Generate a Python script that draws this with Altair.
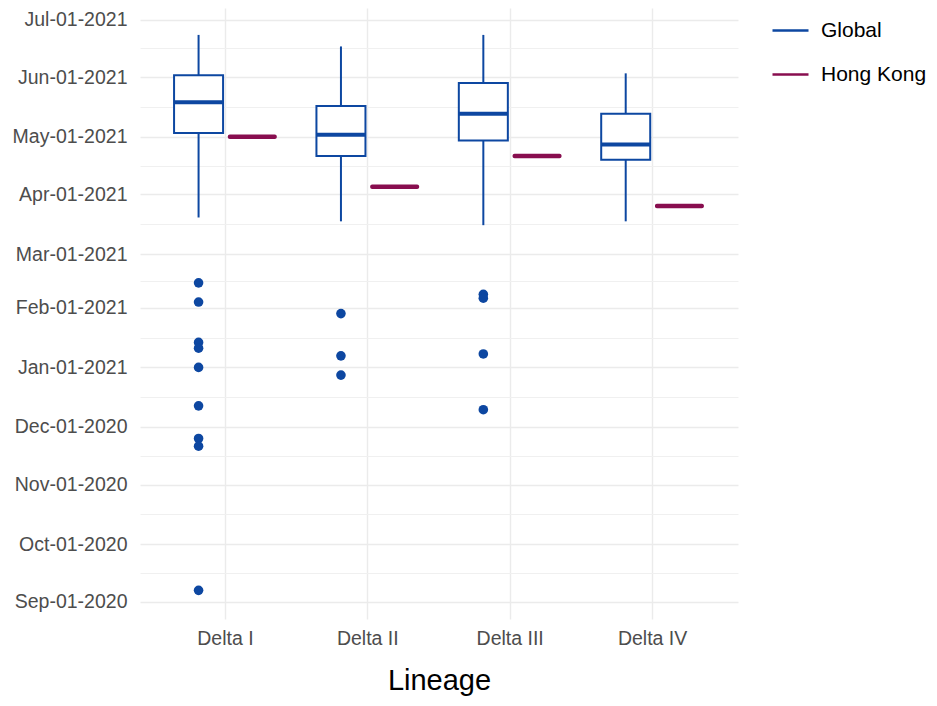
import altair as alt
import pandas as pd

# ---- data ----
lineages = ["Delta I", "Delta II", "Delta III", "Delta IV"]
groups = ["Global", "Hong Kong"]

global_lower = ["2021-03-20", "2021-03-18", "2021-03-16", "2021-03-18"]
global_q1 = ["2021-05-03", "2021-04-21", "2021-04-29", "2021-04-19"]
global_median = ["2021-05-19", "2021-05-02", "2021-05-13", "2021-04-27"]
global_q3 = ["2021-06-02", "2021-05-17", "2021-05-29", "2021-05-13"]
global_upper = ["2021-06-23", "2021-06-17", "2021-06-23", "2021-06-03"]

hong_kong = ["2021-05-01", "2021-04-05", "2021-04-21", "2021-03-26"]

outlier_lineage = ["Delta I"] * 9 + ["Delta II"] * 3 + ["Delta III"] * 4
outlier_date = [
    "2021-02-14", "2021-02-04", "2021-01-14", "2021-01-11", "2021-01-01",
    "2020-12-12", "2020-11-25", "2020-11-21", "2020-09-07",
    "2021-01-29", "2021-01-07", "2020-12-28",
    "2021-02-08", "2021-02-06", "2021-01-08", "2020-12-10",
]

month_ticks = [
    "2020-09-01", "2020-10-01", "2020-11-01", "2020-12-01", "2021-01-01",
    "2021-02-01", "2021-03-01", "2021-04-01", "2021-05-01", "2021-06-01",
    "2021-07-01",
]
y_domain = ["2020-08-23T02:00", "2021-07-07T00:00"]

BLUE = "#0D47A1"
RED = "#880E4F"
FONT = "Liberation Sans"


def ms(s):
    return int(pd.Timestamp(s, tz="UTC").value // 10**6)


major_ms = [ms(s) for s in month_ticks]
minor_ms = [(a + b) // 2 for a, b in zip(major_ms[:-1], major_ms[1:])]
tick_values = sorted(major_ms + minor_ms)

box_df = pd.DataFrame({
    "lineage": lineages,
    "group": "Global",
    "lower": [ms(s) for s in global_lower],
    "q1": [ms(s) for s in global_q1],
    "median": [ms(s) for s in global_median],
    "q3": [ms(s) for s in global_q3],
    "upper": [ms(s) for s in global_upper],
})
hk_df = pd.DataFrame({
    "lineage": lineages,
    "group": "Hong Kong",
    "value": [ms(s) for s in hong_kong],
})
out_df = pd.DataFrame({
    "lineage": outlier_lineage,
    "group": "Global",
    "value": [ms(s) for s in outlier_date],
})

x_enc = alt.X(
    "lineage:N",
    scale=alt.Scale(domain=lineages, paddingInner=0, paddingOuter=0.1),
    axis=alt.Axis(
        title="Lineage", titleFont=FONT, titleFontSize=29, titleFontWeight="normal",
        titleColor="black", titlePadding=19,
        labelFont=FONT, labelFontSize=19.5, labelColor="#4D4D4D", labelAngle=0,
        labelPadding=10, ticks=False, tickSize=0, domain=False,
        grid=True, gridColor="#EBEBEB", gridWidth=1.4, bandPosition=0.5,
    ),
)
xoff_enc = alt.XOffset(
    "group:N",
    scale=alt.Scale(domain=groups, paddingInner=0.0875, paddingOuter=0.369),
)

y_scale = alt.Scale(type="utc", domain=[ms(s) for s in y_domain], nice=False)
y_axis = alt.Axis(
    title="", values=tick_values,
    labelExpr="utcdate(datum.value) == 1 ? utcFormat(datum.value, '%b-%d-%Y') : ''",
    labelFont=FONT, labelFontSize=19.5, labelColor="#4D4D4D", labelPadding=13,
    labelOverlap=False, ticks=False, tickSize=0, domain=False, grid=True,
    gridColor={"condition": {"test": "utcdate(datum.value) == 1", "value": "#EBEBEB"}, "value": "#F0F0F0"},
    gridWidth={"condition": {"test": "utcdate(datum.value) == 1", "value": 1.4}, "value": 1.0},
)


def Y(field):
    return alt.Y(field, scale=y_scale, axis=y_axis)


whiskers = alt.Chart(box_df).mark_rule(strokeWidth=2).encode(
    x=x_enc, xOffset=xoff_enc, y=Y("lower:T"), y2="upper:T",
    color=alt.Color(
        "group:N",
        scale=alt.Scale(domain=groups, range=[BLUE, RED]),
        legend=alt.Legend(
            title=None, orient="none", legendX=631, legendY=3, padding=0,
            symbolType="stroke", symbolSize=1296, symbolStrokeWidth=2.5,
            labelFont=FONT, labelFontSize=21, labelColor="black",
            rowPadding=14, labelOffset=11,
        ),
    ),
)

boxes = alt.Chart(box_df).mark_bar(fill="white", stroke=BLUE, strokeWidth=2).encode(
    x=x_enc, xOffset=xoff_enc, y=Y("q1:T"), y2="q3:T",
)

medians = alt.Chart(box_df).mark_tick(color=BLUE, thickness=4, size=49, opacity=1).encode(
    x=x_enc, xOffset=xoff_enc, y=Y("median:T"),
)

hk = alt.Chart(hk_df).mark_tick(color=RED, thickness=4.5, size=49, opacity=1, cornerRadius=2).encode(
    x=x_enc, xOffset=xoff_enc, y=Y("value:T"),
)

outliers = alt.Chart(out_df).mark_circle(color=BLUE, size=92, opacity=1).encode(
    x=x_enc, xOffset=xoff_enc, y=Y("value:T"),
)

chart = (
    alt.layer(whiskers, boxes, medians, hk, outliers)
    .properties(
        width=598, height=611,
        autosize=alt.AutoSizeParams(type="none"),
        padding={"left": 132, "top": 0, "right": 191, "bottom": 79},
        background="white",
    )
    .configure_view(strokeWidth=0)
)

chart.save("out.html", embed_options={"renderer": "svg", "actions": False})
